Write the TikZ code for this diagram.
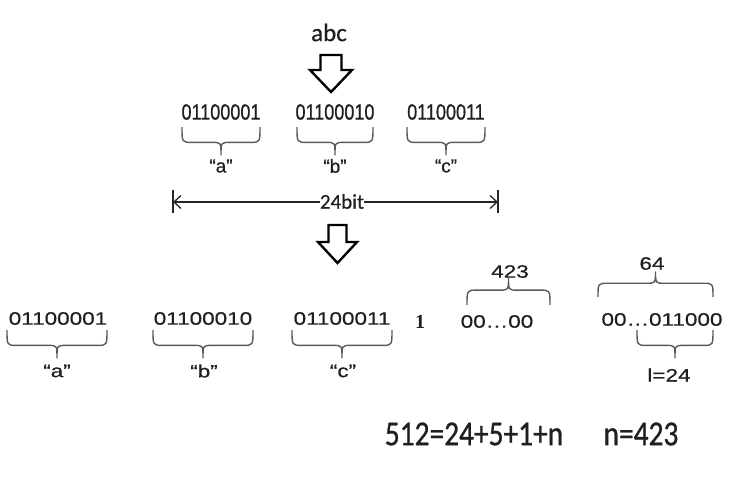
\documentclass[tikz,border=0pt]{standalone}
\usepackage{fontspec}
\usetikzlibrary{arrows.meta}
\newfontfamily\fA[FakeStretch=0.82,FakeBold=0.6]{Liberation Sans}
\newfontfamily\fB[FakeStretch=1.25,FakeBold=0.5]{Liberation Sans}
\newfontfamily\fL[FakeBold=0.6]{Liberation Sans}
\newfontfamily\fC[FakeBold=0.5]{Carlito}
\newfontfamily\fE[FakeStretch=0.84,FakeBold=0.8]{Carlito}
\newfontfamily\fS{Liberation Serif}
% #1 x-left, #2 x-right, #3 y of the ends, #4 depth (negative = upward)
\newcommand\mybrace[4]{%
  \draw[bline] (#1,#3)
    .. controls (#1,{#3+0.55*#4}) .. ({#1+10},{#3+0.55*#4})
    -- ({(#1+#2)/2-9},{#3+0.55*#4})
    .. controls ({(#1+#2)/2},{#3+0.55*#4}) .. ({(#1+#2)/2},{#3+#4})
    .. controls ({(#1+#2)/2},{#3+0.55*#4}) .. ({(#1+#2)/2+9},{#3+0.55*#4})
    -- ({#2-10},{#3+0.55*#4})
    .. controls (#2,{#3+0.55*#4}) .. (#2,#3);}
\begin{document}
\begin{tikzpicture}[x=1pt,y=-1pt,
  txt/.style={inner sep=0pt, text=black!88},
  rowa/.style={txt, font=\fontsize{22}{26}\selectfont\fA},
  rowb/.style={txt, font=\fontsize{18}{22}\selectfont\fB},
  laba/.style={txt, font=\fontsize{19}{22}\selectfont\fL},
  labb/.style={txt, font=\fontsize{18}{22}\selectfont\fB},
  cal/.style={txt, font=\fontsize{#1}{28}\selectfont\fC},
  bline/.style={draw=black!65, line width=1.4pt, line join=round},
  bigarrow/.style={draw=black, line width=2.4pt, line join=miter, fill=white}]
\useasboundingbox (0,0) rectangle (742,482);

% top
\node[cal=25] (abc) at (329,32.5) {abc};
\draw[bigarrow] (320.5,55) -- (341.5,55) -- (341.5,70) -- (352,70) -- (331,92) -- (310,70) -- (320.5,70) -- cycle;

\node[rowa] (a1) at (221,112) {01100001};
\node[rowa] (b1) at (335,112) {01100010};
\node[rowa] (c1) at (446,112) {01100011};
\mybrace{182}{260}{127}{28}
\mybrace{297}{373}{127}{28}
\mybrace{407}{485}{127}{28}
\node[laba] (la1) at (221,166) {“a”};
\node[laba] (lb1) at (335,166) {“b”};
\node[laba] (lc1) at (446,166) {“c”};

% 24 bit
\coordinate (L) at (173,202);
\coordinate (R) at (498,202);
\draw[black!85, line width=1.3pt] (173,190) -- (173,213);
\draw[black!85, line width=1.3pt] (498,190) -- (498,213);
\draw[black!85, line width=1.3pt, {Straight Barb[length=7pt,width=13pt]}-{Straight Barb[length=7pt,width=13pt]}] (L) -- (R);
\node[cal=21, fill=white] (bits) at (342,201.5) {24bit};

\draw[bigarrow] (328.5,225) -- (346.5,225) -- (346.5,242) -- (357,242) -- (337.5,263) -- (318,242) -- (328.5,242) -- cycle;

% row 2
\node[rowb] (a2) at (58,318.5) {01100001};
\node[rowb] (b2) at (203,318.5) {01100010};
\node[rowb] (c2) at (342,318.5) {01100011};
\mybrace{7}{107}{330}{28}
\mybrace{153}{253}{330}{28}
\mybrace{292}{392}{330}{28}
\node[labb] (la2) at (57,371) {“a”};
\node[labb] (lb2) at (204,371) {“b”};
\node[labb] (lc2) at (343,371) {“c”};

\node[txt, font=\fontsize{20}{22}\selectfont\fS\bfseries] (one) at (420,322) {1};
\node[rowb] (pad) at (497,321.5) {00…00};
\node[rowb] (len) at (662,319.5) {00…011000};
\node[rowb] (n423) at (510,271.5) {423};
\node[rowb] (n64) at (652,263.5) {64};
\node[rowb] (l24) at (669,375) {l=24};
\mybrace{467}{550}{305}{-27}
\mybrace{598}{713}{297}{-25}
\mybrace{637}{713}{330}{28}

% equation
\node[txt, font=\fontsize{35}{38}\selectfont\fE] (eq) at (474,434) {512=24+5+1+n};
\node[txt, font=\fontsize{35}{38}\selectfont\fE] (res) at (641,434) {n=423};
\end{tikzpicture}
\end{document}
